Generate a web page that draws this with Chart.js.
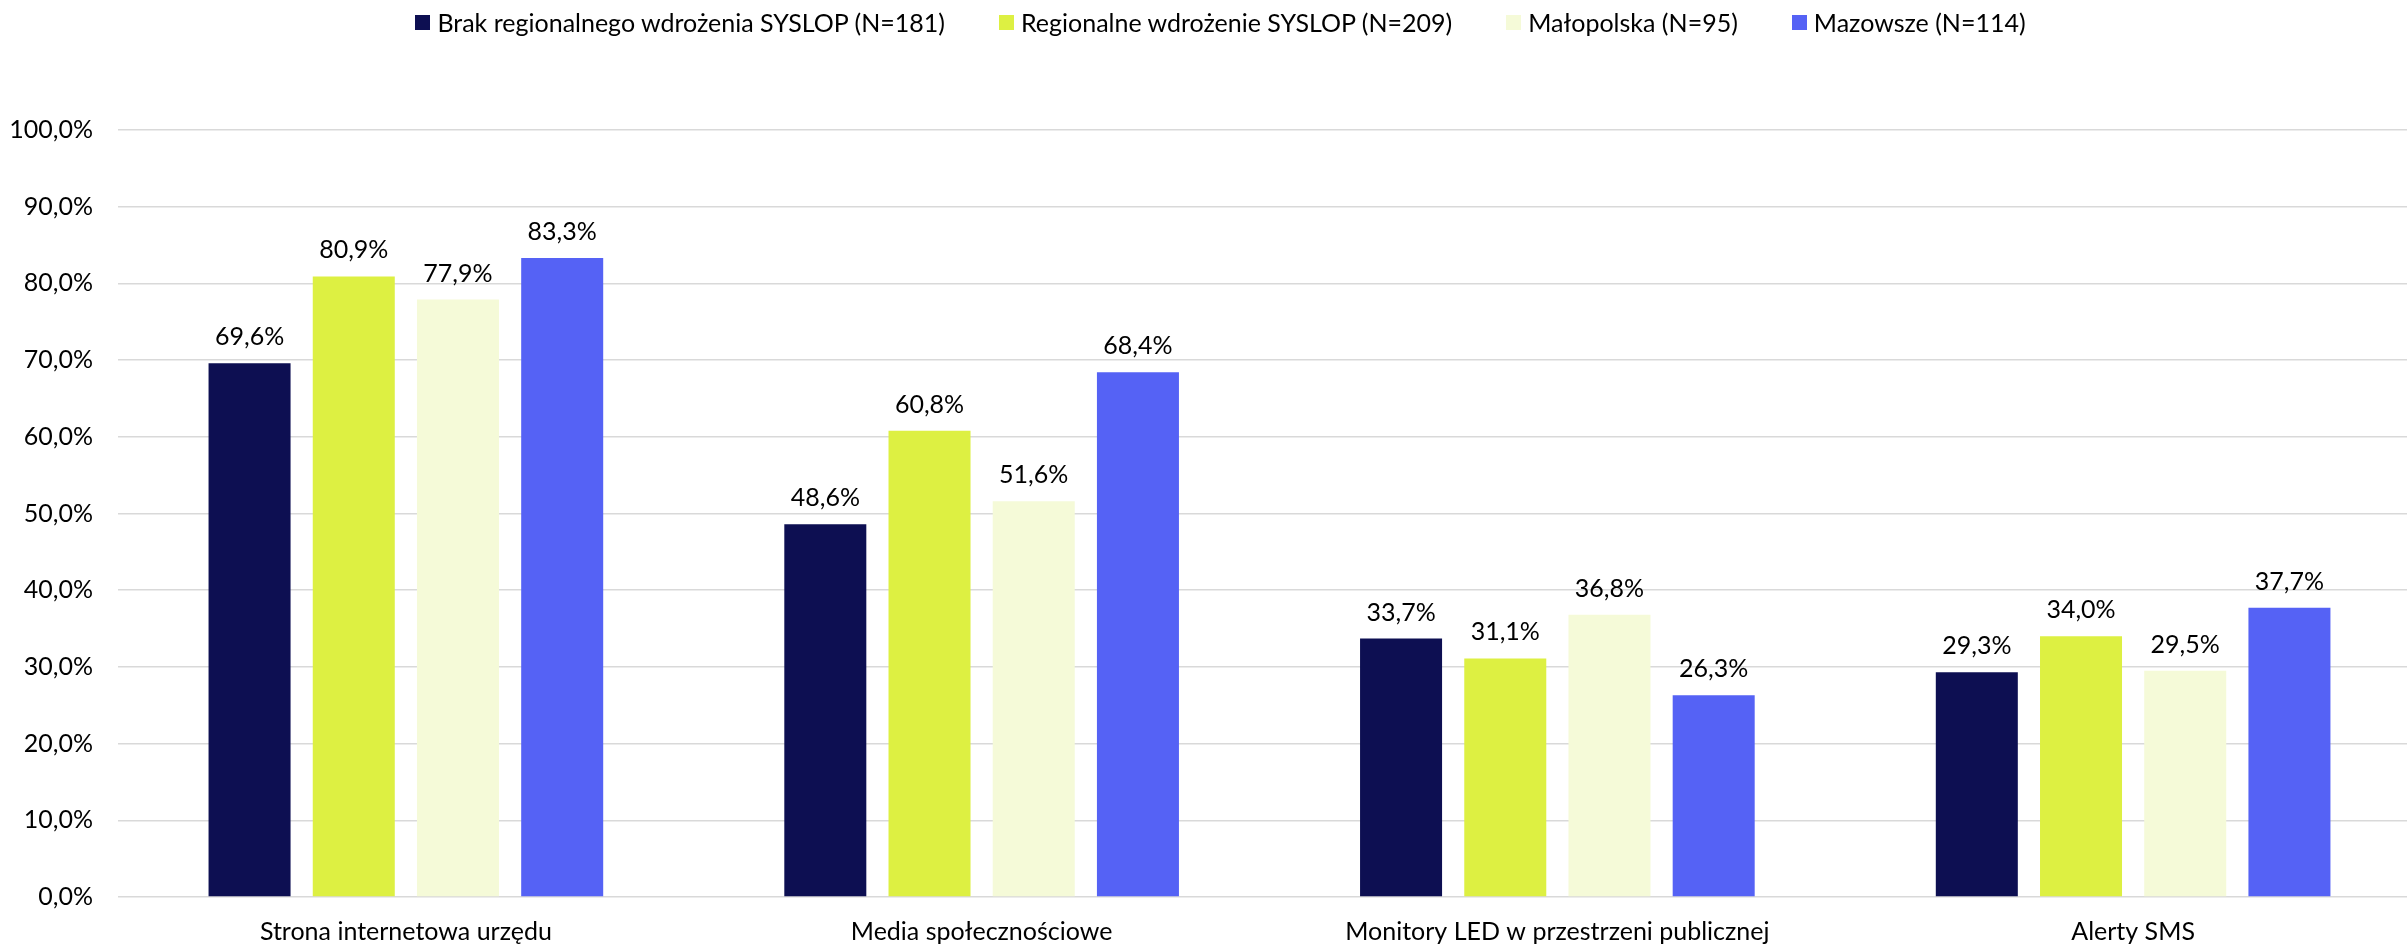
<!DOCTYPE html>
<html>
<head>
<meta charset="utf-8">
<script src="https://cdn.jsdelivr.net/npm/chart.js@4.4.1/dist/chart.umd.min.js"></script>
<style>
    html, body { margin: 0; padding: 0; background: #fff; overflow: hidden; }
    #wrap { position: relative; width: 2425px; height: 945px; }
    #legend {
        position: absolute; top: 7px; left: 0; width: 2441px;
        display: flex; justify-content: center; gap: 54px;
        font: 25px Lato, sans-serif; color: #000;
    }
    #legend .item { display: flex; align-items: center; white-space: nowrap; }
    #legend .box { width: 15px; height: 15px; margin-right: 7px; }
</style>
</head>
<body>
<div id="wrap">
    <canvas id="chart" width="2425" height="945"></canvas>
    <div id="legend"></div>
</div>
<script>
// chart data
const categories = ['Strona internetowa urzędu', 'Media społecznościowe', 'Monitory LED w przestrzeni publicznej', 'Alerty SMS'];
const seriesNames = ['Brak regionalnego wdrożenia SYSLOP (N=181)', 'Regionalne wdrożenie SYSLOP (N=209)', 'Małopolska (N=95)', 'Mazowsze (N=114)'];
const brakValues = [69.6, 48.6, 33.7, 29.3];
const regionalneValues = [80.9, 60.8, 31.1, 34.0];
const malopolskaValues = [77.9, 51.6, 36.8, 29.5];
const mazowszeValues = [83.3, 68.4, 26.3, 37.7];
const yTickLabels = ['0,0%', '10,0%', '20,0%', '30,0%', '40,0%', '50,0%', '60,0%', '70,0%', '80,0%', '90,0%', '100,0%'];

const colors = ['#0d0f52', '#ddf042', '#f5fad8', '#5562f5'];
const FONT = 'Lato, sans-serif';

function fmt(v) {
    return v.toFixed(1).replace('.', ',') + '%';
}

// value labels above each bar
const valueLabels = {
    id: 'valueLabels',
    afterDatasetsDraw(chart) {
        const ctx = chart.ctx;
        ctx.save();
        ctx.font = '25px ' + FONT;
        ctx.fillStyle = '#000';
        ctx.textAlign = 'center';
        ctx.textBaseline = 'alphabetic';
        chart.data.datasets.forEach((ds, i) => {
            chart.getDatasetMeta(i).data.forEach((bar, j) => {
                ctx.fillText(fmt(ds.data[j]), bar.x, bar.y - 18);
            });
        });
        ctx.restore();
    }
};

// html legend built from the chart's own legend items
const htmlLegend = {
    id: 'htmlLegend',
    afterUpdate(chart) {
        const el = document.getElementById('legend');
        el.innerHTML = '';
        chart.options.plugins.legend.labels.generateLabels(chart).forEach(item => {
            const it = document.createElement('div');
            it.className = 'item';
            const box = document.createElement('span');
            box.className = 'box';
            box.style.background = item.fillStyle;
            const txt = document.createElement('span');
            txt.textContent = item.text;
            it.appendChild(box);
            it.appendChild(txt);
            el.appendChild(it);
        });
    }
};

function draw() {
    const values = [brakValues, regionalneValues, malopolskaValues, mazowszeValues];
    new Chart(document.getElementById('chart'), {
        type: 'bar',
        data: {
            labels: categories,
            datasets: seriesNames.map((name, i) => ({
                label: name,
                data: values[i],
                backgroundColor: colors[i],
                borderWidth: 0,
                categoryPercentage: 0.724,
                barPercentage: 0.787
            }))
        },
        options: {
            responsive: false,
            animation: false,
            layout: { padding: { top: 130, right: 4, bottom: 0, left: 0 } },
            plugins: {
                legend: { display: false },
                tooltip: { enabled: false }
            },
            scales: {
                x: {
                    grid: { display: false, drawTicks: false },
                    border: { display: false },
                    ticks: { color: '#000', font: { family: FONT, size: 25 }, padding: 20, maxRotation: 0 },
                    afterFit(scale) { scale.height = 48; }
                },
                y: {
                    min: 0,
                    max: 100,
                    grid: { color: '#d9d9d9', lineWidth: 1.5, drawTicks: false },
                    border: { display: false },
                    ticks: {
                        stepSize: 10,
                        padding: 25,
                        color: '#000',
                        font: { family: FONT, size: 25 },
                        callback: (v, i) => yTickLabels[i]
                    },
                    afterFit(scale) { scale.width = 118; }
                }
            }
        },
        plugins: [valueLabels, htmlLegend]
    });
}

document.fonts.load('25px Lato').then(draw, draw);
</script>
</body>
</html>
